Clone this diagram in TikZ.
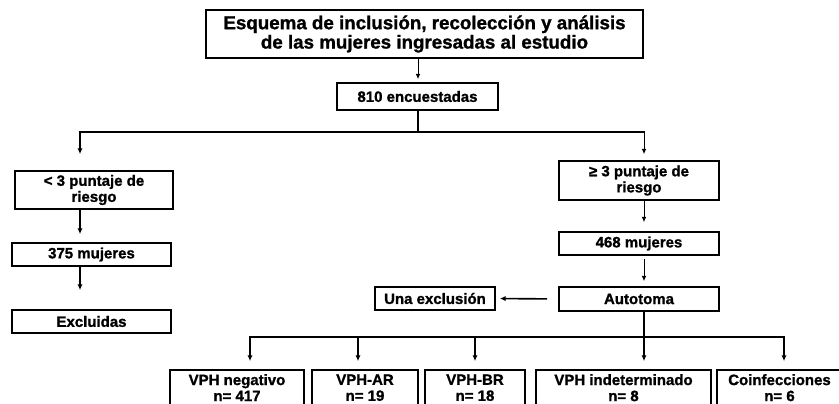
\documentclass[tikz,border=0pt]{standalone}
\usepackage{fontspec}
\setmainfont{Liberation Sans}[BoldFeatures={FakeBold=1.2}]
\usetikzlibrary{arrows.meta, positioning}

\tikzset{
  caja/.style={draw, line width=1.4pt, align=center, inner sep=0pt,
    font=\bfseries\fontsize{12.8}{13.7}\selectfont},
  resultado/.style={caja, minimum height=1.2cm, text depth=4pt},
  flecha/.style={-{Latex[length=5pt,width=4.5pt]}, line width=1.4pt},
  fina/.style={-{Latex[length=4.5pt,width=4pt]}, line width=0.8pt},
  linea/.style={line width=1.4pt, line cap=rect},
}

\begin{document}
\begin{tikzpicture}[x=0.03cm, y=-0.03cm]
  \useasboundingbox (0,0) rectangle (839,404);
  \clip (0,0) rectangle (839,404);

  % Title and first count
  \node[caja, minimum width=13.11cm, minimum height=1.44cm,
    font=\bfseries\fontsize{16}{16.5}\selectfont] (titulo) at (424.5,34)
    {Esquema de inclusión, recolección y análisis\\de las mujeres ingresadas al estudio};
  \node[caja, minimum width=4.83cm, minimum height=0.81cm] (enc) at (417.5,96.5) {810 encuestadas};

  % Left branch
  \node[caja, minimum width=4.74cm, minimum height=1.14cm] (bajo) at (94,190) {< 3 puntaje de\\riesgo};
  \node[caja, minimum width=4.77cm, minimum height=0.69cm] (m375) at (91.5,254.5) {375 mujeres};
  \node[caja, minimum width=4.77cm, minimum height=0.69cm] (excl) at (91.5,321.5) {Excluidas};

  % Right branch
  \node[caja, minimum width=4.8cm, minimum height=1.17cm] (alto) at (639,180.5) {≥ 3 puntaje de\\riesgo};
  \node[caja, minimum width=4.8cm, minimum height=0.69cm] (m468) at (639,243.5) {468 mujeres};
  \node[caja, minimum width=4.8cm, minimum height=0.72cm] (auto) at (639,299) {Autotoma};
  \node[caja, minimum width=3.6cm, minimum height=0.69cm] (unaex) at (435,298.5) {Una exclusión};

  % Results
  \node[resultado, minimum width=4.02cm] (neg) at (237,390) {VPH negativo\\n= 417};
  \node[resultado, minimum width=3.18cm] (ar) at (365,390) {VPH-AR\\n= 19};
  \node[resultado, minimum width=3.0cm] (br) at (475,390) {VPH-BR\\n= 18};
  \node[resultado, minimum width=5.25cm] (ind) at (623.5,390) {VPH indeterminado\\n= 8};
  \node[resultado, minimum width=3.75cm] (coi) at (779.5,390) {Coinfecciones\\n= 6};

  % Bus points
  \coordinate (izq) at (80,132);
  \coordinate (cen) at (418,132);
  \coordinate (der) at (644,132);
  \coordinate (p1) at (250,337);
  \coordinate (p2) at (358,337);
  \coordinate (p3) at (475,337);
  \coordinate (p4) at (644,337);
  \coordinate (p5) at (784,337);

  % Connectors
  \draw[fina, shorten >=0.9mm] (titulo.south -| cen) -- (enc.north -| cen);
  \draw[linea] (enc.south -| cen) -- (cen);
  \draw[linea] (izq) -- (der);
  \draw[flecha, shorten >=4.8mm] (izq) -- (izq |- bajo.north);
  \draw[fina, shorten >=1.8mm] (der) -- (der |- alto.north);

  \draw[flecha, shorten >=2.4mm] (bajo.south -| izq) -- (m375.north -| izq);
  \draw[flecha, shorten >=5.7mm] (m375.south -| izq) -- (excl.north -| izq);

  \draw[fina, shorten >=2.7mm] (alto.south -| der) -- (m468.north -| der);
  \draw[fina, shorten <=0.9mm, shorten >=1.5mm] (m468.south -| der) -- (auto.north -| der);
  \draw[flecha, shorten <=3.3mm, shorten >=1.2mm] (auto.west) -- (unaex.east);

  \draw[linea] (auto.south -| p4) -- (p4);
  \draw[linea] (p1) -- (p5);
  \foreach \p/\n in {p1/neg, p2/ar, p3/br, p4/ind, p5/coi}
    \draw[flecha, shorten >=2.4mm] (\p) -- (\p |- \n.north);
\end{tikzpicture}
\end{document}
